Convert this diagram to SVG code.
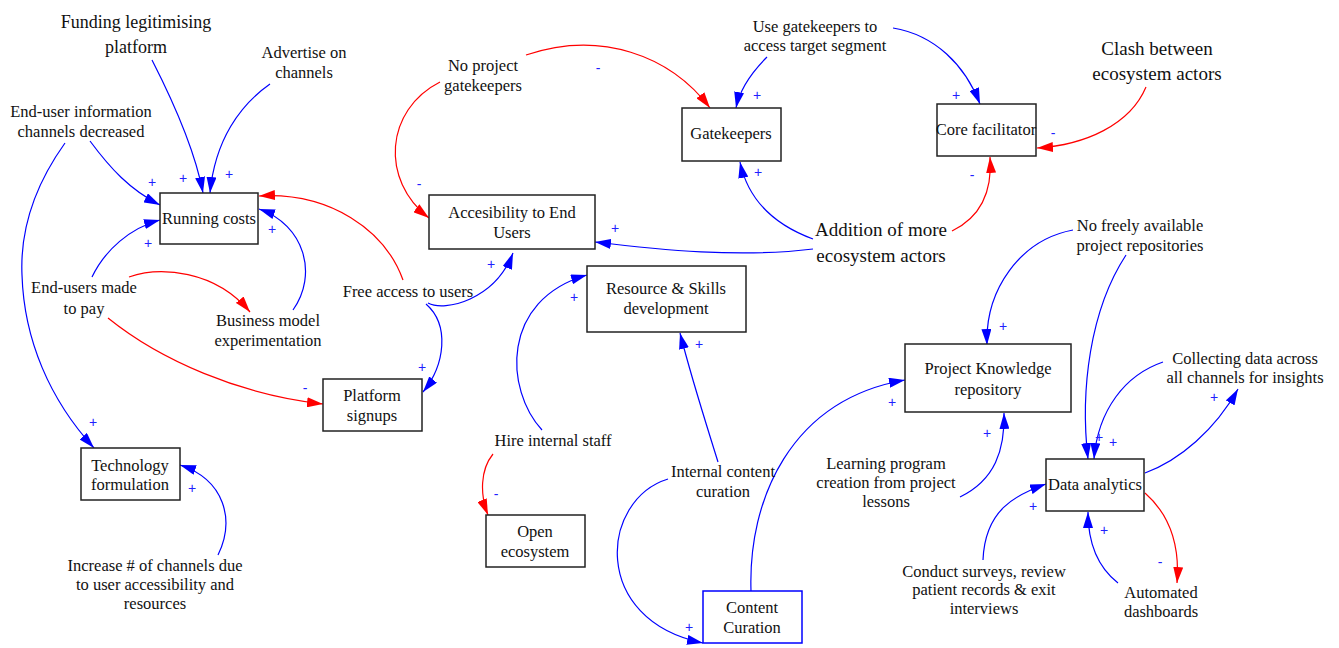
<svg xmlns="http://www.w3.org/2000/svg" width="1339" height="648" viewBox="0 0 1339 648">
  <style>
    .box { fill: #ffffff; stroke: #222222; stroke-width: 1.5; }
    .box-blue { fill: #ffffff; stroke: #0000ff; stroke-width: 1.5; }
    .t { font-family: "Liberation Serif", "Times New Roman", serif; font-size: 16.5px; fill: #111111; text-anchor: middle; }
    .tl { font-family: "Liberation Serif", "Times New Roman", serif; font-size: 19px; fill: #111111; text-anchor: middle; }
    .pos { stroke: #0000ff; stroke-width: 1.2; fill: none; marker-end: url(#ab); }
    .neg { stroke: #ff0000; stroke-width: 1.2; fill: none; marker-end: url(#ar); }
    .sg { font-family: "Liberation Sans", Arial, sans-serif; font-size: 14px; fill: #2020ff; text-anchor: middle; dominant-baseline: central; }
  </style>
  <defs>
    <marker id="ab" markerUnits="userSpaceOnUse" markerWidth="16" markerHeight="10" viewBox="0 0 16 10" refX="16" refY="5" orient="auto">
      <path d="M0,0 L16,5 L0,10 z" fill="#0000ff"/>
    </marker>
    <marker id="ar" markerUnits="userSpaceOnUse" markerWidth="16" markerHeight="10" viewBox="0 0 16 10" refX="16" refY="5" orient="auto">
      <path d="M0,0 L16,5 L0,10 z" fill="#ff0000"/>
    </marker>
  </defs>

  <rect width="1339" height="648" fill="#ffffff"/>

  <!-- causal links -->
  <g id="connectors">
    <path class="pos" d="M90,141 C110,168 130,190 160,205"/>
    <path class="pos" d="M65,143 C35,185 20,230 22,275 C24,340 50,400 94,448"/>
    <path class="pos" d="M152,60 C175,105 195,150 203,193"/>
    <path class="pos" d="M270,84 C240,105 215,140 210,193"/>
    <path class="pos" d="M92,277 C105,250 130,228 160,220"/>
    <path class="pos" d="M293,310 C318,275 305,225 259,209"/>
    <path class="neg" d="M403,280 C385,230 330,192 259,196"/>
    <path class="neg" d="M129,277 C160,266 215,270 250,312"/>
    <path class="neg" d="M108,318 C160,360 240,395 323,404"/>
    <path class="pos" d="M428,303 C445,312 495,300 513,253"/>
    <path class="pos" d="M426,304 C450,325 445,365 423,392"/>
    <path class="neg" d="M440,82 C385,110 380,180 429,218"/>
    <path class="neg" d="M526,55 C600,30 670,55 710,108"/>
    <path class="pos" d="M767,57 C752,72 740,88 736,108"/>
    <path class="pos" d="M893,28 C935,35 965,65 980,104"/>
    <path class="neg" d="M1146,87 C1130,125 1085,145 1037,148"/>
    <path class="neg" d="M952,231 C985,215 992,185 990,157"/>
    <path class="pos" d="M813,239 C775,225 748,200 740,162"/>
    <path class="pos" d="M813,249 C740,258 660,250 595,242"/>
    <path class="pos" d="M542,430 C505,390 500,300 587,275"/>
    <path class="neg" d="M493,454 C480,470 480,495 488,515"/>
    <path class="pos" d="M718,462 C705,420 692,380 680,333"/>
    <path class="pos" d="M668,479 C600,500 590,620 703,643"/>
    <path class="pos" d="M751,591 C748,500 790,400 905,380"/>
    <path class="pos" d="M960,497 C995,480 1005,450 1004,413"/>
    <path class="pos" d="M1073,230 C1020,240 985,290 987,345"/>
    <path class="pos" d="M1126,255 C1090,310 1080,390 1088,459"/>
    <path class="pos" d="M1163,362 C1125,375 1098,410 1094,459"/>
    <path class="pos" d="M1145,473 C1180,460 1215,430 1238,389"/>
    <path class="neg" d="M1145,493 C1170,515 1180,545 1177,583"/>
    <path class="pos" d="M1118,583 C1095,565 1088,540 1088,512"/>
    <path class="pos" d="M983,560 C985,510 1015,495 1046,484"/>
    <path class="pos" d="M218,555 C235,520 225,480 180,465"/>
  </g>

  <!-- link polarities -->
  <g id="polarities">
    <text class="sg" x="152" y="182">+</text>
    <text class="sg" x="93" y="422">+</text>
    <text class="sg" x="183" y="178">+</text>
    <text class="sg" x="229" y="174">+</text>
    <text class="sg" x="148" y="243">+</text>
    <text class="sg" x="272" y="229">+</text>
    <text class="sg" x="305" y="388">-</text>
    <text class="sg" x="491" y="264">+</text>
    <text class="sg" x="422" y="367">+</text>
    <text class="sg" x="419" y="184">-</text>
    <text class="sg" x="598" y="68">-</text>
    <text class="sg" x="757" y="95">+</text>
    <text class="sg" x="956" y="95">+</text>
    <text class="sg" x="1053" y="133">-</text>
    <text class="sg" x="972" y="175">-</text>
    <text class="sg" x="758" y="172">+</text>
    <text class="sg" x="615" y="228">+</text>
    <text class="sg" x="574" y="297">+</text>
    <text class="sg" x="496" y="494">-</text>
    <text class="sg" x="699" y="344">+</text>
    <text class="sg" x="689" y="627">+</text>
    <text class="sg" x="892" y="402">+</text>
    <text class="sg" x="987" y="433">+</text>
    <text class="sg" x="1003" y="326">+</text>
    <text class="sg" x="1099" y="437">+</text>
    <text class="sg" x="1113" y="442">+</text>
    <text class="sg" x="1214" y="397">+</text>
    <text class="sg" x="1160" y="562">-</text>
    <text class="sg" x="1104" y="530">+</text>
    <text class="sg" x="1033" y="506">+</text>
    <text class="sg" x="192" y="488">+</text>
  </g>

  <!-- boxed variables -->
  <g id="running-costs"><rect class="box" x="160" y="193" width="98" height="51"/><text class="t" x="209" y="224">Running costs</text></g>
  <g id="accessibility"><rect class="box" x="429" y="195" width="166" height="54"/><text class="t" x="512" y="218">Accesibility to End</text><text class="t" x="512" y="238">Users</text></g>
  <g id="gatekeepers"><rect class="box" x="682" y="108" width="99" height="53"/><text class="t" x="731" y="139">Gatekeepers</text></g>
  <g id="core-facilitator"><rect class="box" x="937" y="104" width="99" height="52"/><text class="t" x="986" y="135">Core facilitator</text></g>
  <g id="resource-skills"><rect class="box" x="587" y="266" width="159" height="66"/><text class="t" x="666" y="294">Resource &amp; Skills</text><text class="t" x="666" y="314">development</text></g>
  <g id="project-knowledge"><rect class="box" x="905" y="344" width="166" height="68"/><text class="t" x="988" y="374">Project Knowledge</text><text class="t" x="988" y="395">repository</text></g>
  <g id="data-analytics"><rect class="box" x="1046" y="459" width="98" height="52"/><text class="t" x="1095" y="490">Data analytics</text></g>
  <g id="platform-signups"><rect class="box" x="323" y="379" width="99" height="52"/><text class="t" x="372" y="401">Platform</text><text class="t" x="372" y="421">signups</text></g>
  <g id="open-ecosystem"><rect class="box" x="486" y="515" width="99" height="52"/><text class="t" x="535" y="537">Open</text><text class="t" x="535" y="557">ecosystem</text></g>
  <g id="technology-formulation"><rect class="box" x="81" y="448" width="99" height="52"/><text class="t" x="130" y="471">Technology</text><text class="t" x="130" y="490">formulation</text></g>
  <g id="content-curation"><rect class="box-blue" x="703" y="591" width="99" height="52"/><text class="t" x="752" y="613">Content</text><text class="t" x="752" y="633">Curation</text></g>

  <!-- unboxed variables -->
  <g id="funding"><text class="tl" style="font-size:18px" x="136" y="28">Funding legitimising</text><text class="tl" style="font-size:18px" x="136" y="53">platform</text></g>
  <g id="advertise"><text class="t" x="304" y="58">Advertise on</text><text class="t" x="304" y="78">channels</text></g>
  <g id="info-channels"><text class="t" x="81" y="117">End-user information</text><text class="t" x="81" y="137">channels decreased</text></g>
  <g id="no-gatekeepers"><text class="t" x="483" y="71">No project</text><text class="t" x="483" y="91">gatekeepers</text></g>
  <g id="use-gatekeepers"><text class="t" x="815" y="32">Use gatekeepers to</text><text class="t" x="815" y="51">access target segment</text></g>
  <g id="clash"><text class="tl" x="1157" y="55">Clash between</text><text class="tl" x="1157" y="80">ecosystem actors</text></g>
  <g id="addition"><text class="tl" x="881" y="236">Addition of more</text><text class="tl" x="881" y="262">ecosystem actors</text></g>
  <g id="no-repositories"><text class="t" x="1140" y="231">No freely available</text><text class="t" x="1140" y="251">project repositories</text></g>
  <g id="users-pay"><text class="t" x="84" y="293">End-users made</text><text class="t" x="84" y="314">to pay</text></g>
  <g id="business-model"><text class="t" x="268" y="326">Business model</text><text class="t" x="268" y="346">experimentation</text></g>
  <g id="free-access"><text class="t" x="408" y="297">Free access to users</text></g>
  <g id="hire-staff"><text class="t" x="553" y="446">Hire internal staff</text></g>
  <g id="internal-curation"><text class="t" x="723" y="477">Internal content</text><text class="t" x="723" y="497">curation</text></g>
  <g id="learning-program"><text class="t" x="886" y="469">Learning program</text><text class="t" x="886" y="488">creation from project</text><text class="t" x="886" y="507">lessons</text></g>
  <g id="collecting-data"><text class="t" x="1245" y="364">Collecting data across</text><text class="t" x="1245" y="383">all channels for insights</text></g>
  <g id="surveys"><text class="t" x="984" y="577">Conduct surveys, review</text><text class="t" x="984" y="595">patient records &amp; exit</text><text class="t" x="984" y="614">interviews</text></g>
  <g id="dashboards"><text class="t" x="1161" y="598">Automated</text><text class="t" x="1161" y="617">dashboards</text></g>
  <g id="increase-channels"><text class="t" x="155" y="571">Increase # of channels due</text><text class="t" x="155" y="590">to user accessibility and</text><text class="t" x="155" y="609">resources</text></g>
</svg>
